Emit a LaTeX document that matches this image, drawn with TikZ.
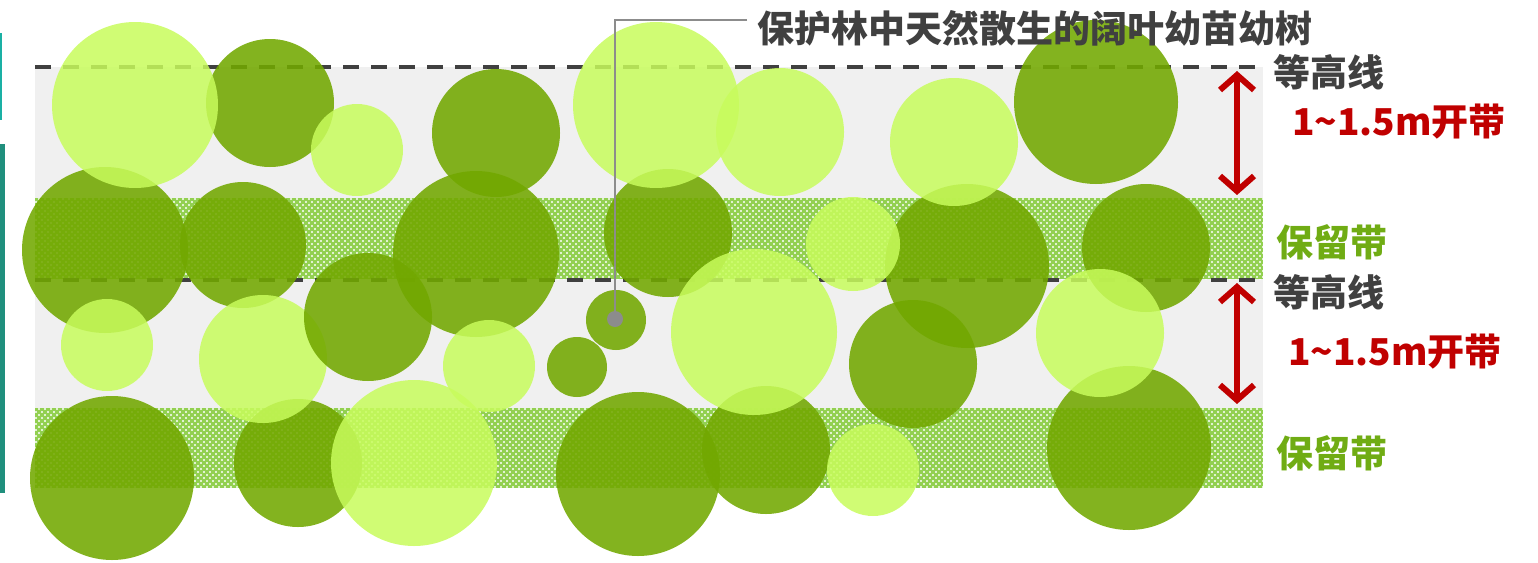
\documentclass[tikz,border=0pt]{standalone}
\usepackage{fontspec}
\newfontfamily\cjk{Noto Sans CJK SC}
\usetikzlibrary{patterns,arrows.meta}
\definecolor{bggray}{RGB}{240,240,240}
\definecolor{bandgreen}{RGB}{146,208,80}
\definecolor{darkg}{RGB}{114,168,0}
\definecolor{lightg}{RGB}{200,252,92}
\definecolor{txtgray}{RGB}{64,64,64}
\definecolor{txtred}{RGB}{192,0,0}
\definecolor{txtgreen}{RGB}{112,172,20}
\definecolor{leadgray}{RGB}{140,140,140}
\definecolor{tealA}{RGB}{26,176,164}
\definecolor{tealB}{RGB}{32,143,125}
\pgfdeclarepatternformonly{wdots}{\pgfpoint{-1.5pt}{-1.5pt}}{\pgfpoint{5pt}{5pt}}{\pgfpoint{6pt}{6pt}}{%
  \pgfpathcircle{\pgfpoint{0pt}{0pt}}{1.2pt}%
  \pgfpathcircle{\pgfpoint{3pt}{3pt}}{1.2pt}%
  \pgfusepath{fill}}
\tikzset{
  darktree/.style={fill=darkg,fill opacity=0.88},
  lighttree/.style={fill=lightg,fill opacity=0.85},
  contour/.style={draw=txtgray,line width=3.5pt,dash pattern=on 16pt off 12pt},
  lbl/.style={anchor=west,inner sep=0pt,font=\cjk\bfseries\fontsize{37}{40}\selectfont},
  gaparrow/.style={draw=txtred,line width=6pt,line cap=round,{Straight Barb[length=15pt,width=34pt,line width=6pt]}-{Straight Barb[length=15pt,width=34pt,line width=6pt]}},
  leader/.style={draw=leadgray,line width=1.8pt}
}
\begin{document}
\begin{tikzpicture}[x=1pt,y=-1pt]
\useasboundingbox (0,0) rectangle (1538,562);
% left teal bars
\fill[tealA] (0,33) rectangle (2,120);
\fill[tealB] (0,144) rectangle (5,493);
% background strip
\fill[bggray] (35,67) rectangle (1263,408);
% retention bands
\fill[bandgreen] (35,198) rectangle (1263,279);
\fill[pattern=wdots,pattern color=white] (35,198) rectangle (1263,279);
\fill[bandgreen] (35,408) rectangle (1263,488);
\fill[pattern=wdots,pattern color=white] (35,408) rectangle (1263,488);
% contour lines
\draw[contour] (35,67) -- (1263,67);
\draw[contour] (35,280) -- (1263,280);
% dark trees
\foreach \x/\y/\r in {270/103/64, 496/133/64, 1096/102/82,
  105/250/83, 243/245/63, 476/254/83, 668/233/64, 967/266/82, 1146/248/64,
  616/320/30, 577/367/30, 913/364/64,
  112/478/82, 298/463/64, 638/474/82, 766/450/64, 1129/448/82}
  \fill[darktree] (\x,\y) circle (\r pt);
% light trees
\foreach \x/\y/\r in {135/105/83, 357/150/46, 656/105/83, 780/132/64, 954/142/64,
  853/244/47, 107/345/46, 263/359/64, 489/366/46, 754/332/83, 1100/333/64,
  414/463/83, 873/470/46}
  \fill[lighttree] (\x,\y) circle (\r pt);
\fill[darktree] (368,317) circle (64pt);
% leader and seedling dot
\node[circle,fill=leadgray,minimum size=16pt,inner sep=0pt] (dot) at (615,319) {};
\node[lbl,text=txtgray] (title) at (757,28) {保护林中天然散生的阔叶幼苗幼树};
\coordinate (lead) at (747,20);
\draw[leader] (lead) -| (dot.center);
% right labels
\node[lbl,text=txtgray] (c1) at (1273,72) {等高线};
\node[lbl,text=txtred] (w1) at (1292,122) {1\textasciitilde1.5m开带};
\node[lbl,text=txtgreen] (b1) at (1276,242) {保留带};
\node[lbl,text=txtgray] (c2) at (1273,292) {等高线};
\node[lbl,text=txtred] (w2) at (1288,352) {1\textasciitilde1.5m开带};
\node[lbl,text=txtgreen] (b2) at (1276,453) {保留带};
% gap arrows
\coordinate (a1t) at (1237,71);
\coordinate (a1b) at (1237,195);
\coordinate (a2t) at (1237,283);
\coordinate (a2b) at (1237,404);
\draw[gaparrow] (a1t) -- (a1b);
\draw[gaparrow] (a2t) -- (a2b);
\end{tikzpicture}
\end{document}
